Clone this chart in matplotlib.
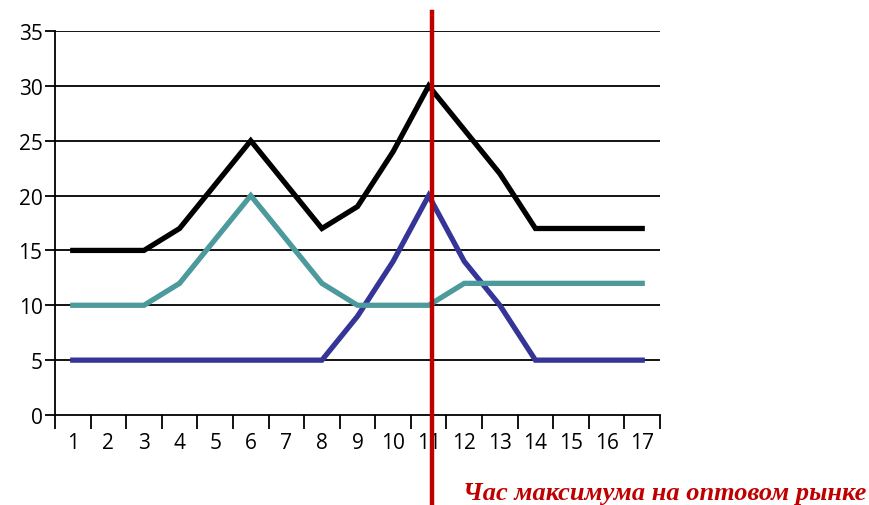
import numpy as np
import matplotlib
matplotlib.use("Agg")
import matplotlib.pyplot as plt

# hours and load values
hours = np.arange(1, 18)
total = [15, 15, 15, 17, 21, 25, 21, 17, 19, 24, 30, 26, 22, 17, 17, 17, 17]
teal_load = [10, 10, 10, 12, 16, 20, 16, 12, 10, 10, 10, 12, 12, 12, 12, 12, 12]
blue_load = [5, 5, 5, 5, 5, 5, 5, 5, 9, 14, 20, 14, 10, 5, 5, 5, 5]
peak_hour = 11.1
label_text = "Час максимума на оптовом рынке"

plt.rcParams['font.family'] = ['Open Sans', 'DejaVu Sans']

fig = plt.figure(figsize=(8.7, 5.06), dpi=100)
ax = fig.add_axes([55/870, 1 - 416/506, 605/870, 384/506])

ax.plot(hours, blue_load, color='#353597', lw=3.8, solid_joinstyle='miter', zorder=3)
ax.plot(hours, teal_load, color='#4c9a9c', lw=3.8, solid_joinstyle='miter', zorder=4)
ax.plot(hours, total, color='black', lw=3.8, solid_joinstyle='miter', zorder=5)

ax.set_xlim(0.5, 17.5)
ax.set_ylim(0, 35)
ax.set_yticks(np.arange(0, 36, 5))
for v in range(5, 36, 5):
    ax.axhline(v, color='black', lw=1.3, zorder=1)

ax.set_xticks(np.arange(0.5, 18, 1))
ax.set_xticklabels([])
ax.set_xticks(hours, minor=True)
ax.set_xticklabels([str(h) for h in hours], minor=True)
ax.tick_params(axis='x', which='major', length=10, width=1.3, direction='out')
ax.tick_params(axis='x', which='minor', length=0, pad=12, labelsize=15)
ax.tick_params(axis='y', length=7, width=1.3, labelsize=15, pad=2)

for s in ['top', 'right']:
    ax.spines[s].set_visible(False)
for s in ['left', 'bottom']:
    ax.spines[s].set_linewidth(1.3)

# peak hour marker
ax.axvline(peak_hour, ymin=-0.24, ymax=1.05, color='#c00000', lw=3.2,
           clip_on=False, zorder=6)

fig.text(866/870, 1 - 494/506, label_text, ha='right', va='center',
         color='#c00000', fontsize=19, fontweight='bold', fontstyle='italic',
         family=['Liberation Serif', 'DejaVu Serif'])

fig.savefig('out.png', dpi=100)
